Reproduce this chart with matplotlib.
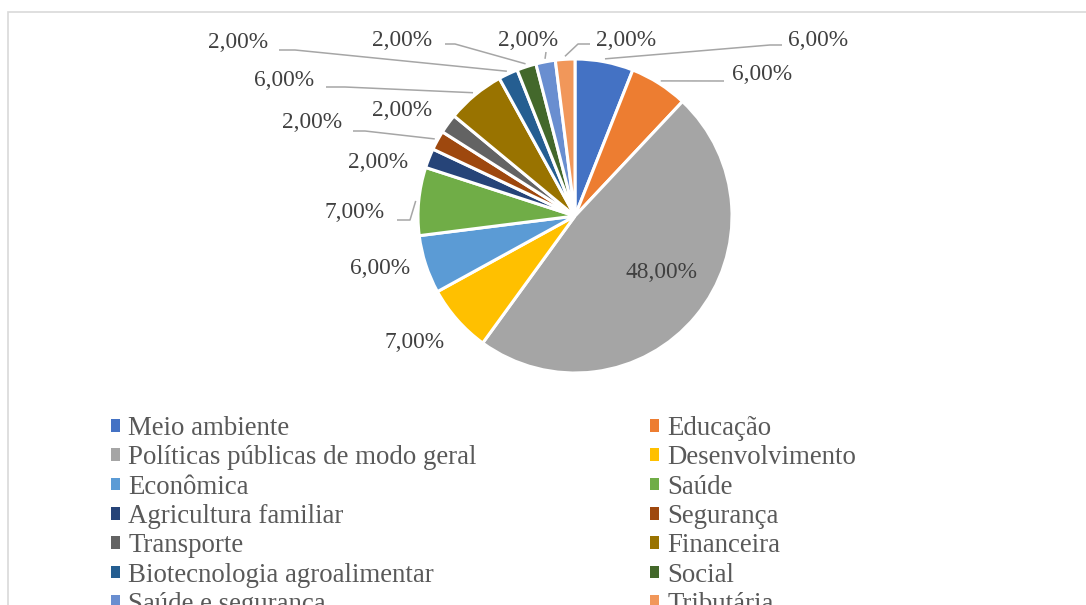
import matplotlib
matplotlib.use('Agg')
import matplotlib.pyplot as plt
from matplotlib.patches import Rectangle, Patch
import numpy as np

# ---- data ----
categories = ["Meio ambiente", "Educação", "Políticas públicas de modo geral",
              "Desenvolvimento", "Econômica", "Saúde", "Agricultura familiar",
              "Segurança", "Transporte", "Financeira",
              "Biotecnologia agroalimentar", "Social", "Saúde e segurança",
              "Tributária"]
values = [6, 6, 48, 7, 6, 7, 2, 2, 2, 6, 2, 2, 2, 2]
colors = ["#4472C4", "#ED7D31", "#A5A5A5", "#FFC000", "#5B9BD5", "#70AD47",
          "#264478", "#9E480E", "#636363", "#997300", "#255E91", "#43682B",
          "#698ED0", "#F1975A"]
value_labels = [f"{v:.2f}".replace('.', ',') + '%' for v in values]

plt.rcParams['font.family'] = ['Liberation Serif', 'DejaVu Serif']

W, H = 1086, 605
fig = plt.figure(figsize=(W / 100, H / 100), dpi=100)
ax = fig.add_axes([0, 0, 1, 1])


def Y(py):
    return H - py


cx, cy, r = 575, Y(216), 157
wedges, _ = ax.pie(values, colors=colors, startangle=90, counterclock=False,
                   center=(cx, cy), radius=r,
                   wedgeprops=dict(edgecolor='white', linewidth=2.2))
ax.set_xlim(0, W)
ax.set_ylim(0, H)
ax.set_aspect('equal')
ax.axis('off')

# label layout: text centre (px) and leader elbow points (px), label side first
label_layout = {
    0: ((818, 40), [(782, 45), (770, 45)]),
    1: ((762, 75), [(724, 81)]),
    2: ((661, 272), None),
    3: ((415, 342), None),
    4: ((380, 268), None),
    5: ((355, 212), [(397, 220), (410, 220)]),
    6: ((378, 163), None),
    7: ((312, 123), [(353, 131), (365, 131)]),
    8: ((402, 111), None),
    9: ((284, 80), [(326, 87), (345, 87)]),
    10: ((238, 43), [(279, 50), (295, 50)]),
    11: ((402, 40), [(445, 44), (455, 44)]),
    12: ((528, 40), [(546, 52)]),
    13: ((626, 40), [(590, 44), (578, 44)]),
}

for i, w in enumerate(wedges):
    (tx, ty), leader = label_layout[i]
    ax.text(tx, Y(ty), value_labels[i], ha='center', va='center',
            fontsize=16.8, color='#404040')
    if leader:
        mid = np.deg2rad((w.theta1 + w.theta2) / 2)
        ex = cx + (r + 3) * np.cos(mid)
        ey = cy + (r + 3) * np.sin(mid)
        xs = [p[0] for p in leader] + [ex]
        ys = [Y(p[1]) for p in leader] + [ey]
        ax.plot(xs, ys, color='#A6A6A6', lw=1.1, solid_capstyle='butt')

# legend in two columns (row-major like the original)
handles = [Patch(facecolor=c, edgecolor='none') for c in colors]
common = dict(loc='upper left', bbox_transform=fig.transFigure, frameon=False,
              handlelength=0.34, handleheight=0.34, handletextpad=0.3,
              labelspacing=0.16, borderpad=0, borderaxespad=0,
              labelcolor='#595959', prop={'size': 19.4})
leg1 = ax.legend(handles[0::2], categories[0::2],
                 bbox_to_anchor=(111 / W, 1 - 416 / H), **common)
ax.add_artist(leg1)
leg2 = ax.legend(handles[1::2], categories[1::2],
                 bbox_to_anchor=(650 / W, 1 - 416 / H), **common)

# chart-area border
fig.add_artist(Rectangle((8 / W, -0.1), 2, 1 - 12 / H + 0.1,
                         transform=fig.transFigure, fill=False,
                         edgecolor='#D9D9D9', lw=1.2))

fig.savefig('out.png', dpi=100)
